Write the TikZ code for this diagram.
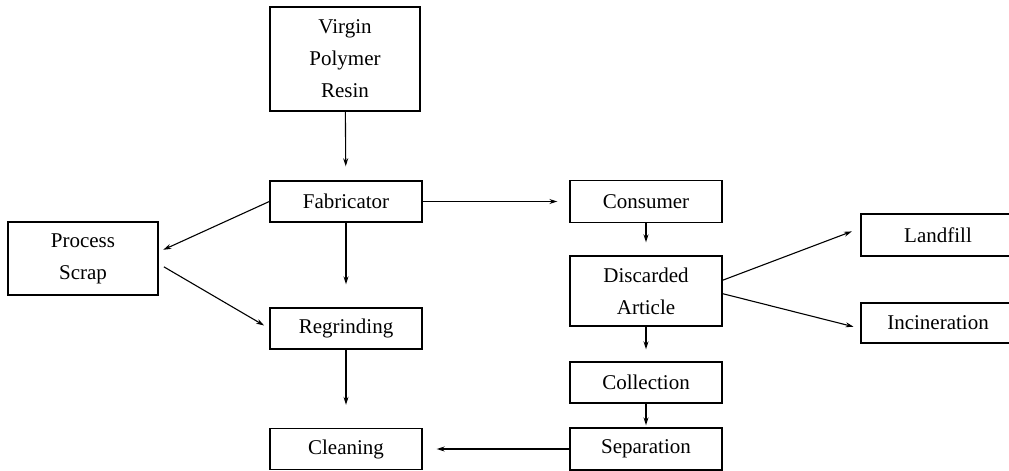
\documentclass[tikz,border=0pt]{standalone}
\usepackage{fontspec}
\setmainfont{Liberation Serif}
\usetikzlibrary{arrows.meta}
\begin{document}
\begin{tikzpicture}[x=1pt,y=1pt]
	\tikzstyle{Box} = [rectangle, minimum width=152pt, minimum height=41pt, inner sep=0pt, align=center, draw=black, line width=1.4pt, font=\fontsize{21}{32}\selectfont]
	\tikzstyle{arrow} = [line width=1.1pt,-{Stealth[length=8pt,width=5pt]}]
	
	\useasboundingbox (0,0) rectangle (1009,-471);
	
	\node (virgin) [Box, minimum width=150pt, minimum height=104pt] at (345,-59) {Virgin\\Polymer\\Resin};
	\node (fab) [Box] at (346,-201.5) {Fabricator};
	\node (scrap) [Box, minimum width=150pt, minimum height=73pt] at (83,-258.5) {Process\\Scrap};
	\node (regrind) [Box] at (346,-328.5) {Regrinding};
	\node (clean) [Box] at (346,-449) {Cleaning};
	
	\node (consumer) [Box, minimum height=42pt] at (646,-201.5) {Consumer};
	\node (discard) [Box, minimum height=70pt] at (646,-291) {Discarded\\Article};
	\node (collect) [Box] at (646,-382.5) {Collection};
	\node (sep) [Box, minimum height=42pt] at (646,-449) {Separation};
	
	\node (landfill) [Box, minimum width=154pt, minimum height=42pt] at (938,-235) {Landfill};
	\node (incin) [Box, minimum width=154pt, minimum height=40pt] at (938,-323) {Incineration};
	
	\draw [arrow, shorten >=14pt] (virgin) -- (fab);
	\draw [arrow, shorten >=5pt] (fab.west) -- (scrap.5);
	\draw [arrow, shorten <=6pt, shorten >=6pt] (scrap.-4) -- (regrind.west);
	\draw [arrow, shorten >=23pt] (fab) -- (regrind);
	\draw [arrow, shorten >=23pt] (regrind) -- (clean);
	\draw [arrow, shorten >=12pt] (fab) -- (consumer);
	
	\draw [arrow, shorten >=13pt] (consumer) -- (discard);
	\draw [arrow, shorten >=12pt] (discard) -- (collect);
	\draw [arrow, shorten >=2pt] (collect) -- (sep);
	\draw [arrow, shorten >=14pt] (sep) -- (clean);
	
	\draw [arrow, shorten >=9pt] (discard.8) -- (landfill.175);
	\draw [arrow, shorten >=7pt] (discard.-2) -- (incin.184);
\end{tikzpicture}
\end{document}
